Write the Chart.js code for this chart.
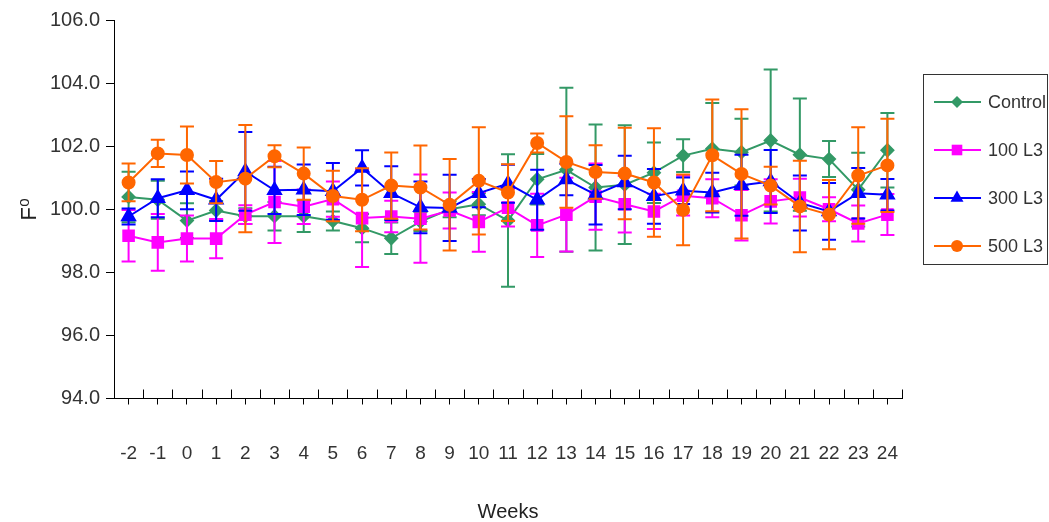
<!DOCTYPE html>
<html lang="en">
  <head>
    <meta charset="UTF-8" />
    <title>F0 by week</title>
    <script src="https://cdn.jsdelivr.net/npm/chart.js"></script>
    <style>
      html, body { margin: 0; padding: 0; background: #fff; }
      #wrap { width: 1049px; height: 522px; }
    </style>
  </head>
  <body>
    <div id="wrap"><canvas id="chart"></canvas></div>
    <script>
      // Weeks on the x axis
      const weeks = ["-2", "-1", "0", "1", "2", "3", "4", "5", "6", "7", "8", "9", "10", "11",
        "12", "13", "14", "15", "16", "17", "18", "19", "20", "21", "22", "23", "24"];

      // Mean F0 per group
      const control = [100.39, 100.3, 99.64, 99.96, 99.78, 99.78, 99.78, 99.63, 99.4, 99.08, 99.61, 100.0, 100.16, 99.64,
        100.95, 101.25, 100.69, 100.78, 101.16, 101.7, 101.92, 101.81, 102.18, 101.73, 101.59, 100.62, 101.87];
      const l3_100 = [99.16, 98.95, 99.07, 99.07, 99.83, 100.23, 100.08, 100.32, 99.72, 99.77, 99.7, 99.96, 99.6, 100.05,
        99.49, 99.83, 100.4, 100.16, 99.93, 100.43, 100.35, 99.81, 100.25, 100.37, 100.0, 99.55, 99.83];
      const l3_300 = [99.77, 100.35, 100.6, 100.3, 101.2, 100.6, 100.62, 100.57, 101.31, 100.51, 100.06, 100.04, 100.51, 100.81,
        100.3, 100.94, 100.46, 100.85, 100.41, 100.59, 100.53, 100.76, 100.88, 100.2, 99.93, 100.51, 100.46];
      const l3_500 = [100.85, 101.77, 101.72, 100.86, 100.97, 101.68, 101.13, 100.42, 100.3, 100.75, 100.69, 100.14, 100.9, 100.53,
        102.1, 101.5, 101.18, 101.13, 100.85, 99.98, 101.71, 101.12, 100.75, 100.09, 99.83, 101.07, 101.39];

      // Error bar half-lengths
      const controlErr = [0.8, 0.6, 0.55, 0.3, 0.25, 0.45, 0.5, 0.3, 0.45, 0.5, 0.3, 0.25, 0.35, 2.1,
        0.8, 2.6, 2.0, 1.88, 0.96, 0.52, 1.45, 1.06, 2.25, 1.78, 0.57, 1.17, 1.18];
      const l3_100Err = [0.82, 0.9, 0.73, 0.62, 0.3, 1.3, 0.55, 0.56, 1.55, 0.5, 1.4, 0.57, 0.95, 0.6,
        1.0, 1.17, 1.05, 0.9, 0.56, 0.63, 0.6, 0.8, 0.7, 0.6, 0.38, 0.57, 0.65];
      const l3_300Err = [0.25, 0.6, 0.6, 0.67, 1.25, 0.75, 0.8, 0.9, 0.56, 0.85, 0.82, 1.05, 0.45, 0.6,
        0.95, 0.5, 0.94, 0.85, 0.87, 0.42, 0.63, 0.97, 1.0, 0.87, 0.9, 0.8, 0.5];
      const l3_500Err = [0.6, 0.43, 0.9, 0.67, 1.7, 0.35, 0.83, 0.8, 1.0, 1.05, 1.33, 1.45, 1.7, 0.9,
        0.3, 1.45, 0.85, 1.45, 1.72, 1.12, 1.77, 2.05, 0.6, 1.45, 1.1, 1.53, 1.48];

      const seriesNames = ["Control", "100 L3", "300 L3", "500 L3"];
      const errors = [controlErr, l3_100Err, l3_300Err, l3_500Err];

      const FONT = "'Liberation Sans', Arial, 'DejaVu Sans', sans-serif";
      const TEXT = "#333";

      // error bars, drawn under each dataset's own line
      const errorBars = {
        id: "errorBars",
        beforeDatasetDraw(chart, args) {
          const ds = chart.data.datasets[args.index];
          const errs = errors[args.index];
          const y = chart.scales.y;
          const ctx = chart.ctx;
          ctx.save();
          ctx.strokeStyle = ds.borderColor;
          ctx.lineWidth = 2;
          args.meta.data.forEach((pt, i) => {
            const top = y.getPixelForValue(ds.data[i] + errs[i]);
            const bot = y.getPixelForValue(ds.data[i] - errs[i]);
            ctx.beginPath();
            ctx.moveTo(pt.x, top);
            ctx.lineTo(pt.x, bot);
            ctx.moveTo(pt.x - 7, top);
            ctx.lineTo(pt.x + 7, top);
            ctx.moveTo(pt.x - 7, bot);
            ctx.lineTo(pt.x + 7, bot);
            ctx.stroke();
          });
          ctx.restore();
        },
      };

      // small upward ticks between the weeks
      const boundaryTicks = {
        id: "boundaryTicks",
        afterDraw(chart) {
          const x = chart.scales.x;
          const a = chart.chartArea;
          const ctx = chart.ctx;
          ctx.save();
          ctx.strokeStyle = "#000";
          ctx.lineWidth = 1;
          ctx.beginPath();
          for (let i = 0; i < weeks.length; i++) {
            const p = i < weeks.length - 1
              ? (x.getPixelForTick(i) + x.getPixelForTick(i + 1)) / 2
              : a.right;
            const px = Math.round(p) + 0.5;
            ctx.moveTo(px, a.bottom);
            ctx.lineTo(px, a.bottom - 9);
          }
          ctx.stroke();
          ctx.restore();
        },
      };

      // boxed legend on the right
      const boxLegend = {
        id: "boxLegend",
        afterDraw(chart) {
          const ctx = chart.ctx;
          const a = chart.chartArea;
          const left = a.right + 21;
          const top = a.top + 54;
          ctx.save();
          ctx.strokeStyle = "#333";
          ctx.lineWidth = 1;
          ctx.strokeRect(Math.round(left) + 0.5, Math.round(top) + 0.5, 124, 190);
          chart.data.datasets.forEach((ds, i) => {
            const cy = top + 28 + i * 48;
            ctx.strokeStyle = ds.borderColor;
            ctx.lineWidth = 2;
            ctx.beginPath();
            ctx.moveTo(left + 11, cy);
            ctx.lineTo(left + 58, cy);
            ctx.stroke();
            ctx.fillStyle = ds.pointBackgroundColor;
            ctx.strokeStyle = ds.borderColor;
            ctx.lineWidth = 1;
            Chart.helpers.drawPoint(ctx, { pointStyle: ds.pointStyle, radius: ds.pointRadius, rotation: 0 }, left + 34, cy);
            ctx.fillStyle = TEXT;
            ctx.font = "18px " + FONT;
            ctx.textBaseline = "middle";
            ctx.fillText(ds.label, left + 65, cy + 1);
          });
          ctx.restore();
        },
      };

      function series(label, data, color, style, radius, order) {
        return {
          label: label,
          data: data,
          borderColor: color,
          backgroundColor: color,
          pointBackgroundColor: color,
          pointBorderColor: color,
          pointStyle: style,
          pointRadius: radius,
          pointHoverRadius: radius,
          borderWidth: 2,
          tension: 0,
          order: order,
        };
      }

      new Chart(document.getElementById("chart"), {
        type: "line",
        data: {
          labels: weeks,
          datasets: [
            series(seriesNames[0], control, "#339966", "rectRot", 6, 4),
            series(seriesNames[1], l3_100, "#FF00FF", "rect", 7.5, 3),
            series(seriesNames[2], l3_300, "#0000FF", "triangle", 7.5, 2),
            series(seriesNames[3], l3_500, "#FF6600", "circle", 6, 1),
          ],
        },
        options: {
          responsive: true,
          maintainAspectRatio: false,
          animation: false,
          layout: { padding: { top: 20, right: 147, bottom: 0, left: 0 } },
          plugins: {
            legend: { display: false },
            tooltip: { enabled: false },
          },
          scales: {
            x: {
              type: "category",
              offset: true,
              afterFit(scale) { scale.height = 123.5; },
              border: { display: true, color: "#000", width: 1 },
              grid: { offset: false, drawOnChartArea: false, drawTicks: true, tickLength: 6, color: "#000" },
              ticks: { color: TEXT, font: { family: FONT, size: 19 }, padding: 38, maxRotation: 0, autoSkip: false },
              title: {
                display: true,
                text: "Weeks",
                color: "#222",
                font: { family: FONT, size: 20, lineHeight: 1 },
                padding: { top: 0, bottom: 0 },
              },
            },
            y: {
              min: 94,
              max: 106,
              afterFit(scale) { scale.width = 114; },
              border: { display: true, color: "#000", width: 1 },
              grid: { drawOnChartArea: false, drawTicks: true, tickLength: 8, color: "#000" },
              ticks: {
                stepSize: 2,
                color: TEXT,
                font: { family: FONT, size: 20 },
                padding: 6,
                callback: (v) => Number(v).toFixed(1),
              },
              title: {
                display: true,
                text: "F⁰",
                color: "#222",
                font: { family: FONT, size: 22 },
                padding: { top: 17, bottom: 0 },
              },
            },
          },
        },
        plugins: [errorBars, boundaryTicks, boxLegend],
      });
    </script>
  </body>
</html>
